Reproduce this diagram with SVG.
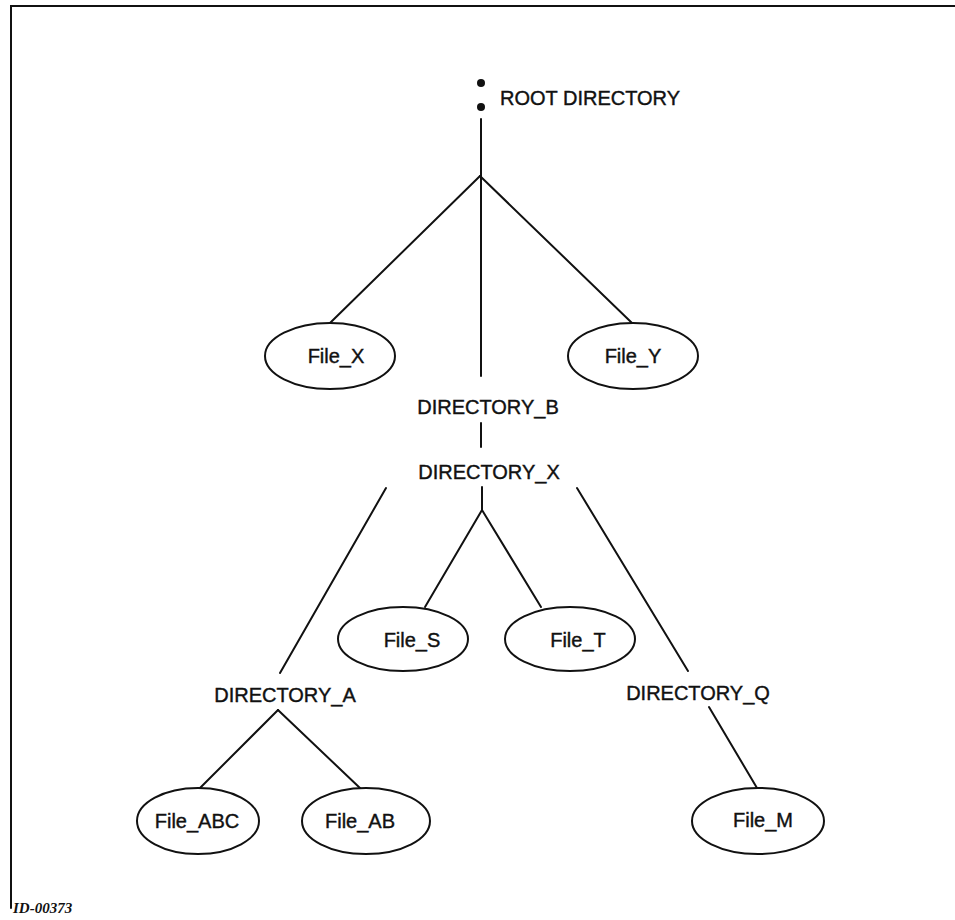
<svg xmlns="http://www.w3.org/2000/svg" width="955" height="920" viewBox="0 0 955 920">
<style>
.ln{stroke:#111;stroke-width:2;fill:none;stroke-linecap:round}
.el{stroke:#111;stroke-width:2;fill:#fff}
.t{font-family:"Liberation Sans",Arial,sans-serif;font-size:20px;fill:#111;stroke:#111;stroke-width:0.4;text-anchor:middle}
.id{font-family:"Liberation Serif","Times New Roman",serif;font-style:italic;font-weight:bold;font-size:15px;fill:#111}
</style>
<rect width="955" height="920" fill="#fff"/>
<polyline class="ln" points="11,908 11,6 955,6"/>
<g id="connectors">
<line class="ln" x1="481" y1="119" x2="481" y2="376"/>
<line class="ln" x1="480" y1="176" x2="330" y2="323"/>
<line class="ln" x1="480" y1="176" x2="632" y2="323"/>
<line class="ln" x1="481" y1="423" x2="481" y2="447"/>
<line class="ln" x1="482" y1="487" x2="482" y2="510"/>
<line class="ln" x1="482" y1="510" x2="425" y2="607"/>
<line class="ln" x1="482" y1="510" x2="541" y2="607"/>
<line class="ln" x1="386" y1="488" x2="280" y2="673"/>
<line class="ln" x1="577" y1="488" x2="688" y2="671"/>
<line class="ln" x1="278" y1="710" x2="199" y2="789"/>
<line class="ln" x1="278" y1="710" x2="361" y2="789"/>
<line class="ln" x1="709" y1="707" x2="757" y2="788"/>
</g>
<g id="root">
<circle cx="481" cy="83" r="4" fill="#111"/>
<circle cx="481" cy="107" r="4" fill="#111"/>
<text class="t" x="500" y="105" style="text-anchor:start">ROOT DIRECTORY</text>
</g>
<g id="file_x"><ellipse class="el" cx="330" cy="356" rx="65" ry="33"/><text class="t" x="336" y="363">File_X</text></g>
<g id="file_y"><ellipse class="el" cx="633" cy="356" rx="65" ry="33"/><text class="t" x="633" y="363">File_Y</text></g>
<g id="directory_b"><text class="t" x="488" y="414">DIRECTORY_B</text></g>
<g id="directory_x"><text class="t" x="489" y="479">DIRECTORY_X</text></g>
<g id="file_s"><ellipse class="el" cx="403" cy="639" rx="65" ry="32"/><text class="t" x="412" y="647">File_S</text></g>
<g id="file_t"><ellipse class="el" cx="570" cy="639" rx="65" ry="32"/><text class="t" x="578" y="647">File_T</text></g>
<g id="directory_a"><text class="t" x="285" y="702">DIRECTORY_A</text></g>
<g id="directory_q"><text class="t" x="698" y="700">DIRECTORY_Q</text></g>
<g id="file_abc"><ellipse class="el" cx="198" cy="821" rx="61" ry="33"/><text class="t" x="197" y="828">File_ABC</text></g>
<g id="file_ab"><ellipse class="el" cx="366" cy="821" rx="64" ry="33"/><text class="t" x="360" y="828">File_AB</text></g>
<g id="file_m"><ellipse class="el" cx="758" cy="821" rx="66" ry="33"/><text class="t" x="763" y="827">File_M</text></g>
<text class="id" x="13" y="913">ID-00373</text>
</svg>
